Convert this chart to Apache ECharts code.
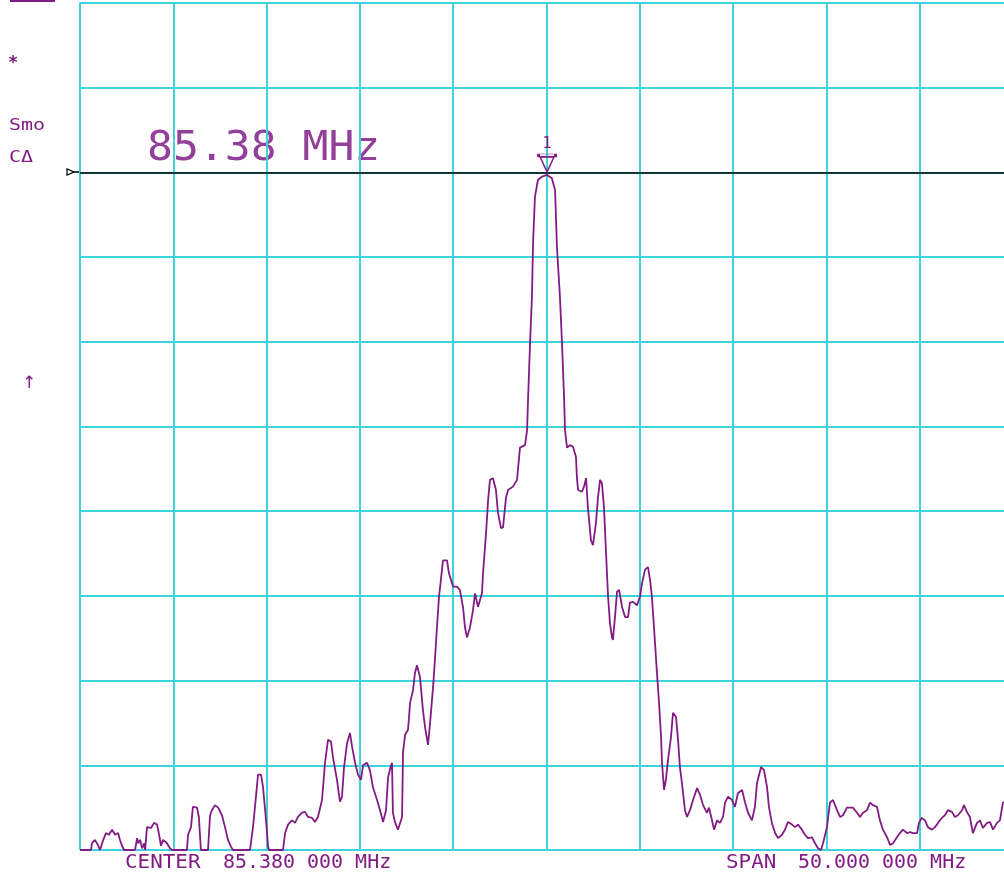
<!DOCTYPE html>
<html>
<head>
<meta charset="utf-8">
<script src="https://cdn.jsdelivr.net/npm/echarts@6/dist/echarts.min.js"></script>
<style>
html,body{margin:0;padding:0;background:#fff;}
#chart{width:1004px;height:876px;}
</style>
</head>
<body>
<div id="chart"></div>
<script>
// Frequency offset from center (MHz), center 85.38 MHz, span 50 MHz
var freqOffset = [
-25.00,-24.41,-24.36,-24.20,-24.04,-23.93,-23.77,-23.61,-23.45,-23.28,-23.12,-22.96,-22.86,-22.75,-22.64,
-22.05,-21.94,-21.88,-21.78,-21.67,-21.56,-21.51,-21.41,-21.19,-21.03,-20.87,-20.76,-20.66,-20.55,-20.34,-20.18,-20.07,
-19.27,-19.21,-19.05,-18.95,-18.73,-18.63,-18.52,-18.14,-18.03,-17.93,-17.77,-17.60,-17.39,-17.23,-17.07,-16.91,-16.80,
-15.89,-15.73,-15.56,-15.46,-15.30,-15.19,-15.03,-14.92,-14.87,
-14.12,-14.01,-13.85,-13.64,-13.48,-13.32,-13.10,-12.94,-12.78,-12.57,-12.41,-12.25,-12.03,-11.87,-11.71,-11.55,-11.44,
-11.23,-11.07,-10.96,-10.85,-10.69,-10.53,-10.42,-10.26,-10.10,-9.94,-9.83,-9.62,-9.46,-9.30,-9.08,-8.92,-8.76,-8.60,
-8.49,-8.33,-8.28,-8.23,-8.12,-7.96,-7.74,-7.69,-7.58,-7.42,-7.31,-7.15,-7.05,-6.94,-6.78,-6.62,-6.51,-6.35,-6.24,
-6.08,-5.98,-5.87,-5.76,-5.60,-5.55,-5.33,-5.23,-5.01,-4.80,-4.64,-4.47,-4.37,-4.26,-4.10,-3.94,-3.83,-3.67,-3.46,
-3.40,-3.24,-3.13,-3.03,-2.87,-2.71,-2.60,-2.44,-2.33,-2.17,-2.06,-1.80,-1.58,-1.53,-1.42,-1.15,-1.04,-0.99,-0.88,
-0.78,-0.72,-0.62,-0.46,-0.24,0.03,0.29,0.46,0.56,0.72,0.83,0.94,0.99,1.10,1.26,1.42,1.58,1.63,1.69,1.90,2.01,2.12,
2.22,2.28,2.38,2.49,2.65,2.76,2.87,2.97,3.08,3.19,3.30,3.40,3.51,3.56,3.67,3.78,3.89,4.05,4.21,4.37,4.47,4.64,4.85,
5.01,5.12,5.28,5.44,5.55,5.65,5.76,5.92,6.03,6.14,6.19,6.30,6.40,6.51,6.67,6.78,6.94,7.05,7.15,7.26,7.42,7.53,7.69,
7.85,8.07,8.23,8.39,8.60,8.71,8.87,8.98,9.14,9.30,9.46,9.57,9.73,9.94,10.10,10.26,10.48,10.64,10.80,11.01,11.17,
11.28,11.50,11.66,11.82,11.92,12.08,12.25,12.41,12.62,12.78,12.94,13.16,13.32,13.48,13.69,13.85,14.01,14.23,14.39,
14.55,14.71,14.82,15.03,15.19,15.35,15.57,15.73,15.89,16.10,16.26,16.42,16.64,16.80,16.96,17.18,17.34,17.50,17.71,
17.87,18.03,18.25,18.41,18.57,18.78,18.94,19.10,19.32,19.48,19.64,19.86,19.96,20.12,20.28,20.44,20.66,20.82,20.98,
21.19,21.35,21.51,21.73,21.89,22.05,22.27,22.37,22.53,22.69,22.85,23.07,23.23,23.39,23.61,23.77,23.93,24.14,24.30,
24.46,24.84
];
// Trace level (dB, reference at top = 0 dB, 10 dB/div)
var levelDb = [
-100,-100,-99.2,-98.8,-99.4,-100,-98.9,-98.0,-98.2,-97.6,-98.2,-98.0,-98.8,-99.5,-100,
-100,-98.6,-99.2,-98.8,-99.8,-99.2,-100,-97.3,-97.4,-96.8,-97.0,-98.2,-99.5,-98.8,-99.2,-99.8,-100,
-100,-98.2,-97.3,-94.9,-95.0,-96.1,-100,-100,-95.9,-95.3,-94.7,-95.0,-95.9,-97.3,-98.8,-99.6,-100,
-100,-97.3,-93.5,-91.1,-91.1,-92.6,-96.5,-99.6,-100,
-100,-98.0,-97.0,-96.5,-96.8,-96.1,-95.6,-95.5,-96.1,-96.2,-96.7,-96.1,-94.1,-89.7,-87.0,-87.2,-89.1,
-91.7,-94.3,-93.7,-90.2,-87.4,-86.2,-87.8,-89.7,-91.1,-91.7,-90.0,-89.7,-90.6,-92.6,-94.1,-95.3,-96.7,-95.3,
-91.4,-90.0,-89.7,-95.6,-96.7,-97.6,-96.1,-88.5,-86.4,-85.8,-82.6,-81.1,-79.1,-78.2,-79.6,-83.5,-85.5,-87.6,-85.0,
-80.8,-77.6,-73.7,-70.1,-66.9,-65.8,-65.8,-67.3,-68.9,-68.9,-69.3,-71.4,-73.7,-74.9,-73.7,-71.7,-69.7,-71.3,-69.7,
-67.3,-62.6,-58.7,-56.3,-56.1,-57.5,-60.2,-62.0,-61.9,-58.4,-57.5,-57.1,-56.3,-55.1,-52.5,-52.2,-50.4,-46.9,-40.1,
-34.7,-28.3,-22.9,-20.9,-20.5,-20.3,-20.7,-22.1,-28.8,-34.7,-40.1,-46.5,-50.4,-52.5,-52.2,-52.4,-53.6,-56.0,-57.5,-57.7,-57.1,-56.1,
-59.6,-61.0,-63.4,-64.0,-61.4,-58.4,-56.3,-56.7,-59.5,-64.9,-70.1,-73.2,-74.9,-75.2,-72.5,-69.5,-69.3,-71.3,-72.5,-72.5,-70.8,-70.7,-71.1,
-70.1,-68.5,-66.9,-66.6,-68.1,-70.1,-73.7,-79.1,-82.6,-86.7,-89.7,-92.9,-91.7,-89.4,-86.7,-83.8,-84.3,-87.0,-90.2,-92.1,-95.3,-96.1,-95.3,
-94.1,-92.7,-93.5,-94.7,-95.6,-95.0,-96.5,-97.6,-96.5,-96.8,-96.1,-94.4,-93.7,-94.1,-94.9,-93.3,-92.9,-94.4,-95.6,-96.5,-94.9,
-92.1,-90.2,-90.6,-92.6,-94.9,-96.8,-98.0,-98.6,-98.2,-97.6,-96.7,-97.0,-97.3,-97.0,-97.6,-98.2,-98.6,-98.5,-99.2,
-99.8,-100,-99.2,-97.3,-94.4,-94.1,-95.3,-96.1,-95.9,-95.0,-95.0,-95.0,-95.6,-96.1,-95.6,-95.3,-94.4,-94.7,-94.9,
-96.5,-97.6,-98.5,-99.4,-99.2,-98.5,-98.0,-97.6,-98.0,-97.9,-98.0,-98.0,-96.8,-96.2,-96.5,-97.3,-97.6,-97.3,-96.8,
-96.2,-95.9,-95.3,-95.5,-96.1,-95.9,-95.3,-94.7,-95.5,-96.1,-98.0,-96.8,-96.5,-97.4,-96.8,-96.7,-97.6,-96.8,-96.5,
-94.4,-94.1
];
var markerFreq = 0.03;
var markerLevel = -20;
var markerLabel = '1';
var markerReadout = '85.38 MHz';
var centerText = ['CENTER', '85.380 000 MHz'];
var spanText = ['SPAN', '50.000 000 MHz'];
var sideLabels = ['*', 'Smo', 'C\u0394', '\u2191'];

var purple = '#821c84';
var cyan = '#3fd3db';
var data = freqOffset.map(function (f, i) { return [f, levelDb[i]]; });

var chart = echarts.init(document.getElementById('chart'));
var mono = '"DejaVu Sans Mono", "Liberation Mono", monospace';
chart.setOption({
  animation: false,
  backgroundColor: '#ffffff',
  grid: { left: 80, top: 3, width: 933, height: 847, outerBoundsMode: 'none', containLabel: false },
  xAxis: {
    type: 'value', min: -25, max: 25, interval: 5,
    axisLine: { show: true, lineStyle: { color: cyan, width: 2 } },
    axisTick: { show: false }, axisLabel: { show: false },
    splitLine: { show: true, lineStyle: { color: cyan, width: 2 } }
  },
  yAxis: {
    type: 'value', min: -100, max: 0, interval: 10,
    axisLine: { show: true, lineStyle: { color: cyan, width: 2 } },
    axisTick: { show: false }, axisLabel: { show: false },
    splitLine: { show: true, lineStyle: { color: cyan, width: 2 } }
  },
  series: [{
    type: 'line',
    data: data,
    showSymbol: false,
    smooth: false,
    clip: false,
    lineStyle: { color: purple, width: 1.8 },
    itemStyle: { color: purple },
    markLine: {
      silent: true,
      symbol: ['none', 'none'],
      label: { show: false },
      lineStyle: { color: '#000000', width: 1.5, type: 'solid' },
      data: [{ yAxis: markerLevel }]
    },
    markPoint: {
      silent: true,
      data: [
        {
          coord: [markerFreq, markerLevel],
          symbol: 'triangle', symbolRotate: 180, symbolSize: [14, 15], symbolOffset: [0, -8],
          itemStyle: { color: 'rgba(0,0,0,0)', borderColor: purple, borderWidth: 1.5 },
          label: { show: false }
        },
        {
          coord: [markerFreq, markerLevel],
          symbol: 'rect', symbolSize: [17, 3], symbolOffset: [0, -17],
          itemStyle: { color: 'rgba(0,0,0,0)', borderColor: purple, borderWidth: 1.2 },
          label: { show: true, formatter: markerLabel, position: 'top', distance: 2,
                   color: purple, fontSize: 15, fontFamily: mono }
        }
      ]
    }
  }],
  graphic: [
    { type: 'rect', shape: { x: 10, y: 0, width: 45, height: 2 }, style: { fill: purple } },
    { type: 'line', shape: { x1: 70, y1: 172, x2: 81, y2: 172 }, style: { stroke: '#000', lineWidth: 1.5 } },
    { type: 'polygon', shape: { points: [[67, 169], [67, 175], [74, 172]] }, style: { fill: '#fff', stroke: '#000', lineWidth: 1.2 } },
    { type: 'text', x: 8, y: 64, style: { text: sideLabels[0], fill: purple, font: 'bold 17px ' + mono, verticalAlign: 'middle' } },
    { type: 'text', x: 9, y: 126, scaleX: 1.25, style: { text: sideLabels[1], fill: purple, font: '16px ' + mono, verticalAlign: 'middle' } },
    { type: 'text', x: 9, y: 158, scaleX: 1.25, style: { text: sideLabels[2], fill: purple, font: '16px ' + mono, verticalAlign: 'middle' } },
    { type: 'text', x: 22, y: 384, style: { text: sideLabels[3], fill: purple, font: '17px "DejaVu Sans", sans-serif', verticalAlign: 'middle' } },
    { type: 'text', x: 147, y: 149, scaleX: 1.05, style: { text: markerReadout, fill: '#93409a', font: '41px ' + mono, verticalAlign: 'middle' } },
    { type: 'text', x: 125, y: 863, scaleX: 1.1, style: { text: centerText[0], fill: purple, font: '19px ' + mono, verticalAlign: 'middle' } },
    { type: 'text', x: 223, y: 863, scaleX: 1.05, style: { text: centerText[1], fill: purple, font: '19px ' + mono, verticalAlign: 'middle' } },
    { type: 'text', x: 726, y: 863, scaleX: 1.1, style: { text: spanText[0], fill: purple, font: '19px ' + mono, verticalAlign: 'middle' } },
    { type: 'text', x: 798, y: 863, scaleX: 1.05, style: { text: spanText[1], fill: purple, font: '19px ' + mono, verticalAlign: 'middle' } }
  ]
});
</script>
</body>
</html>
